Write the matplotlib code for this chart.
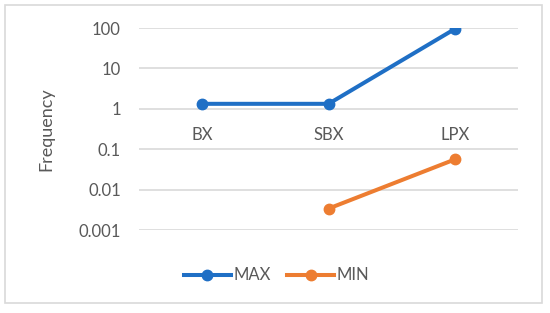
import numpy as np
import matplotlib.pyplot as plt
from matplotlib.patches import Rectangle

categories = ["BX", "SBX", "LPX"]
max_values = [1.33, 1.33, 95]
min_values = [np.nan, 0.0034, 0.056]
y_ticks = [0.001, 0.01, 0.1, 1, 10, 100]
y_tick_labels = ["0.001", "0.01", "0.1", "1", "10", "100"]

plt.rcParams['font.family'] = ['Lato', 'DejaVu Sans']
text_color = '#595959'

fig = plt.figure(figsize=(5.5, 3.13), dpi=100)
ax = fig.add_axes([0.2527, 0.265, 0.6893, 0.6455])

x = np.arange(len(categories))
ax.plot(x, max_values, color='#1f6fc5', lw=2.9, marker='o', ms=7.5, label='MAX', zorder=3)
ax.plot(x, min_values, color='#ed7d31', lw=2.9, marker='o', ms=7.5, label='MIN', zorder=3)

ax.set_yscale('log')
ax.set_ylim(0.001, 100)
ax.set_xlim(-0.5, 2.5)
ax.set_yticks(y_ticks)
ax.set_yticklabels(y_tick_labels)
ax.minorticks_off()
ax.set_xticks([])
ax.tick_params(axis='y', length=0, pad=13, labelsize=12, labelcolor=text_color)
ax.grid(axis='y', color='#d9d9d9', lw=1.2)
ax.set_axisbelow(True)
for s in ax.spines.values():
    s.set_visible(False)

# category labels sit under the axis crossing at 1
for xi, cat in zip(x, categories):
    ax.annotate(cat, (xi, 1), xytext=(0, -19), textcoords='offset points',
                ha='center', va='center', fontsize=12, color=text_color)

ax.set_ylabel('Frequency', fontsize=13, color=text_color)
ax.yaxis.set_label_coords(-0.224, 0.5)

leg = fig.legend(loc='center', bbox_to_anchor=(0.503, 0.12), ncol=2, frameon=False,
                 fontsize=12, handlelength=2.8, columnspacing=1.0, handletextpad=0.15,
                 labelcolor=text_color)

fig.patches.append(Rectangle((5 / 550, 10 / 313), 537 / 550, 298 / 313,
                             transform=fig.transFigure, fill=False,
                             edgecolor='#d9d9d9', lw=1.2))

fig.savefig('out.png', dpi=100, facecolor='white')
